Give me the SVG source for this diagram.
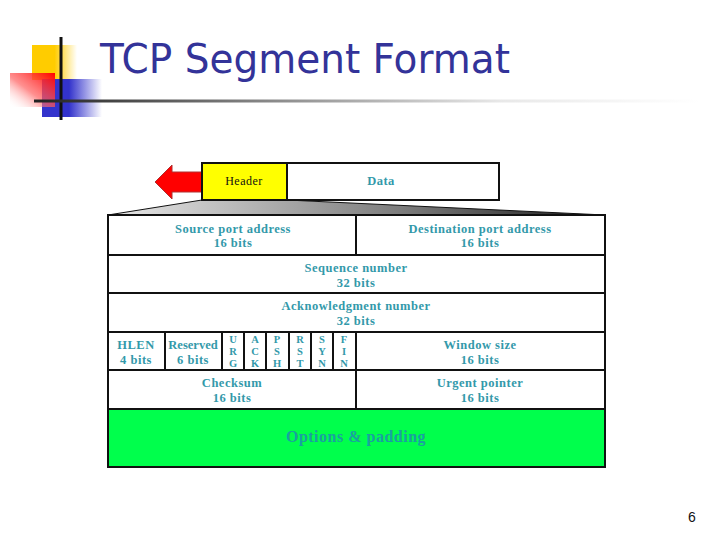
<svg xmlns="http://www.w3.org/2000/svg" width="720" height="540" viewBox="0 0 720 540">
<defs>
<linearGradient id="gY" x1="0" y1="0" x2="1" y2="0"><stop offset="0" stop-color="#FFCC00"/><stop offset="0.5" stop-color="#FFCC00"/><stop offset="1" stop-color="#FFCC00" stop-opacity="0"/></linearGradient>
<linearGradient id="gR" x1="1" y1="0" x2="0" y2="1"><stop offset="0" stop-color="#FF0000"/><stop offset="0.55" stop-color="#FF6060" stop-opacity="0.7"/><stop offset="1" stop-color="#FFFFFF" stop-opacity="0"/></linearGradient>
<linearGradient id="gB" x1="0" y1="0" x2="1" y2="0"><stop offset="0" stop-color="#3333CC"/><stop offset="0.45" stop-color="#3333CC"/><stop offset="1" stop-color="#3333CC" stop-opacity="0"/></linearGradient>
<linearGradient id="gL" x1="34" y1="0" x2="700" y2="0" gradientUnits="userSpaceOnUse"><stop offset="0" stop-color="#222222"/><stop offset="0.35" stop-color="#888888"/><stop offset="0.7" stop-color="#E8E8E8"/><stop offset="1" stop-color="#FFFFFF"/></linearGradient>
<linearGradient id="gT" x1="108" y1="0" x2="605" y2="0" gradientUnits="userSpaceOnUse"><stop offset="0" stop-color="#E8E8E8"/><stop offset="0.25" stop-color="#BBBBBB"/><stop offset="0.6" stop-color="#7A7A7A"/><stop offset="1" stop-color="#1A1A1A"/></linearGradient>
<style>
.cell{fill:#FFFFFF;stroke:#111111;stroke-width:2}
.t{font-family:"Liberation Serif","Times New Roman",serif;font-weight:bold;font-size:12.5px;letter-spacing:0.5px;fill:#3399AA;text-anchor:middle}
.f{font-family:"Liberation Serif","Times New Roman",serif;font-weight:bold;font-size:10.5px;fill:#3399AA;text-anchor:middle}
</style>
</defs>
<rect width="720" height="540" fill="#FFFFFF"/>
<g id="logo">
<rect x="32" y="45" width="45" height="35" fill="url(#gY)"/>
<rect x="42" y="79" width="60" height="38" fill="url(#gB)"/>
<rect x="10" y="73" width="45" height="34" fill="url(#gR)"/>
<line x1="61" y1="37" x2="61" y2="120" stroke="#111111" stroke-width="3"/>
<line x1="34" y1="101" x2="700" y2="101" stroke="url(#gL)" stroke-width="3"/>
</g>
<g id="title">
<text x="100" y="73" font-family="'DejaVu Sans',Verdana,sans-serif" font-size="40" fill="#333399" textLength="410" lengthAdjust="spacingAndGlyphs">TCP Segment Format</text>
</g>
<g id="connectors">
<polygon points="202,200 287,200 605,215 108,215" fill="url(#gT)" stroke="#111111" stroke-width="1"/>
<polygon points="155,182 172,165 172,172 202,172 202,192 172,192 172,199" fill="#FF0000" stroke="#B03030" stroke-width="1"/>
</g>
<g id="segment">
<rect class="cell" x="202" y="163" width="85" height="37" style="fill:#FFFF00"/>
<text x="244" y="185" font-family="'Liberation Serif','Times New Roman',serif" font-size="12" letter-spacing="0.5" fill="#111111" text-anchor="middle">Header</text>
<rect class="cell" x="287" y="163" width="212" height="37"/>
<text class="t" x="381" y="185">Data</text>
</g>
<g id="row-ports">
<rect class="cell" x="108" y="215" width="248" height="40"/>
<text class="t" x="233" y="233">Source port address</text>
<text class="t" x="233" y="247">16 bits</text>
<rect class="cell" x="356" y="215" width="249" height="40"/>
<text class="t" x="480" y="233">Destination port address</text>
<text class="t" x="480" y="247">16 bits</text>
</g>
<g id="row-seq">
<rect class="cell" x="108" y="255" width="497" height="38"/>
<text class="t" x="356" y="272">Sequence number</text>
<text class="t" x="356" y="287">32 bits</text>
</g>
<g id="row-ack">
<rect class="cell" x="108" y="293" width="497" height="39"/>
<text class="t" x="356" y="310">Acknowledgment number</text>
<text class="t" x="356" y="325">32 bits</text>
</g>
<g id="row-flags">
<rect class="cell" x="108" y="332" width="57" height="38"/>
<text class="t" x="136" y="349">HLEN</text>
<text class="t" x="136" y="364">4 bits</text>
<rect class="cell" x="165" y="332" width="57" height="38"/>
<text class="t" x="193" y="349" style="letter-spacing:0">Reserved</text>
<text class="t" x="193" y="364">6 bits</text>
<rect class="cell" x="222" y="332" width="22" height="38"/>
<text class="f" x="233" y="343">U</text><text class="f" x="233" y="355">R</text><text class="f" x="233" y="367">G</text>
<rect class="cell" x="244" y="332" width="22" height="38"/>
<text class="f" x="255" y="343">A</text><text class="f" x="255" y="355">C</text><text class="f" x="255" y="367">K</text>
<rect class="cell" x="266" y="332" width="23" height="38"/>
<text class="f" x="277" y="343">P</text><text class="f" x="277" y="355">S</text><text class="f" x="277" y="367">H</text>
<rect class="cell" x="289" y="332" width="22" height="38"/>
<text class="f" x="300" y="343">R</text><text class="f" x="300" y="355">S</text><text class="f" x="300" y="367">T</text>
<rect class="cell" x="311" y="332" width="22" height="38"/>
<text class="f" x="322" y="343">S</text><text class="f" x="322" y="355">Y</text><text class="f" x="322" y="367">N</text>
<rect class="cell" x="333" y="332" width="23" height="38"/>
<text class="f" x="344" y="343">F</text><text class="f" x="344" y="355">I</text><text class="f" x="344" y="367">N</text>
<rect class="cell" x="356" y="332" width="249" height="38"/>
<text class="t" x="480" y="349">Window size</text>
<text class="t" x="480" y="364">16 bits</text>
</g>
<g id="row-checksum">
<rect class="cell" x="108" y="370" width="248" height="39"/>
<text class="t" x="232" y="387">Checksum</text>
<text class="t" x="232" y="402">16 bits</text>
<rect class="cell" x="356" y="370" width="249" height="39"/>
<text class="t" x="480" y="387">Urgent pointer</text>
<text class="t" x="480" y="402">16 bits</text>
</g>
<g id="row-options">
<rect class="cell" x="108" y="409" width="497" height="58" style="fill:#00FF4C"/>
<text class="t" x="356" y="442" style="font-size:16px;fill:#1AA0A0">Options &amp; padding</text>
</g>
<g id="page-number">
<text x="692" y="522" font-family="'Liberation Sans',Arial,sans-serif" font-size="14" fill="#111111" text-anchor="middle">6</text>
</g>
</svg>
